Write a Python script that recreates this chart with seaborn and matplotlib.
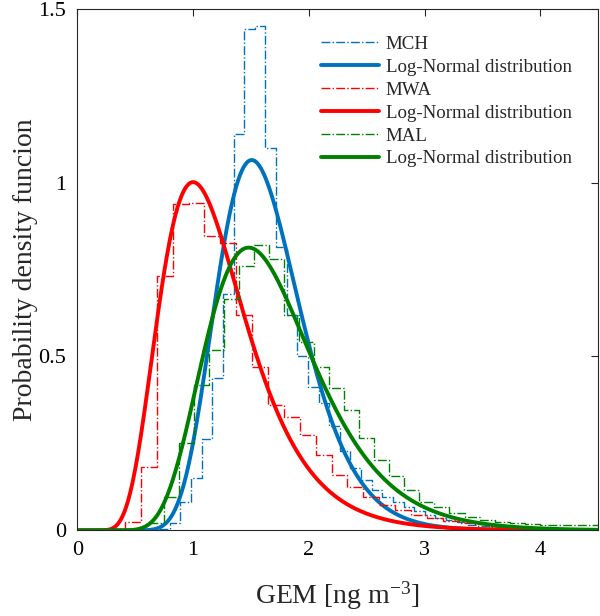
import numpy as np
import matplotlib
matplotlib.use("Agg")
import matplotlib.pyplot as plt
import seaborn as sns

# histogram bins (equal width per site) and densities
mch_start, mch_width = 0.707, 0.0918
mch_density = [0.005, 0.02, 0.083, 0.15, 0.262, 0.437, 0.68, 1.14, 1.44, 1.45,
               1.10, 0.816, 0.619, 0.50, 0.413, 0.366, 0.30, 0.227, 0.18, 0.145,
               0.116, 0.097, 0.083, 0.068, 0.055, 0.045, 0.035, 0.03, 0.025, 0.016,
               0.013, 0.011, 0.009, 0.007, 0.006, 0.005, 0.004, 0.003, 0.003, 0.002]

mwa_start, mwa_width = 0.275, 0.1372
mwa_density = [0.004, 0.025, 0.183, 0.732, 0.938, 0.94, 0.845, 0.825, 0.62, 0.47,
               0.36, 0.327, 0.274, 0.217, 0.16, 0.126, 0.097, 0.073, 0.059, 0.045,
               0.035, 0.028, 0.022, 0.017, 0.013, 0.01, 0.008, 0.006, 0.005, 0.004]

mal_start, mal_width = 0.615, 0.13
mal_density = [0.02, 0.097, 0.251, 0.418, 0.52, 0.665, 0.76, 0.82, 0.78, 0.62,
               0.543, 0.471, 0.41, 0.346, 0.265, 0.203, 0.155, 0.116, 0.083, 0.068,
               0.05, 0.038, 0.03, 0.025, 0.02, 0.017, 0.015, 0.015, 0.016, 0.016]

# fitted log-normal parameters (mu, sigma of ln GEM)
sites = ["MCH", "MWA", "MAL"]
lognorm_mu = [0.468, 0.138, 0.4915]
lognorm_sigma = [0.2416, 0.372, 0.3155]

colors = ["#0072BD", "#FF0000", "#008000"]

sns.set_style("white")
plt.rcParams["font.family"] = ["Liberation Serif", "DejaVu Serif"]
plt.rcParams["mathtext.default"] = "regular"

fig = plt.figure(figsize=(6, 6.16), dpi=100)
ax = fig.add_axes([0.129, 0.139, 0.868, 0.847])

hists = [(mch_start, mch_width, mch_density),
         (mwa_start, mwa_width, mwa_density),
         (mal_start, mal_width, mal_density)]

x = np.linspace(0.001, 4.5, 600)
for site, (start, width, dens), mu, sigma, c in zip(sites, hists, lognorm_mu,
                                                    lognorm_sigma, colors):
    dens = np.asarray(dens)
    edges = start + width * np.arange(len(dens) + 1)
    centers = edges[:-1] + width / 2
    sns.histplot(x=centers, weights=dens, bins=edges.tolist(), element="step",
                 fill=False, color=c, linestyle="-.", linewidth=1.0,
                 label=site, ax=ax)
    pdf = np.exp(-(np.log(x) - mu) ** 2 / (2 * sigma ** 2)) / (x * sigma * np.sqrt(2 * np.pi))
    sns.lineplot(x=x, y=pdf, color=c, linewidth=2.8,
                 label="Log-Normal distribution", ax=ax)

ax.set_xlim(0, 4.5)
ax.set_ylim(0, 1.5)
ax.set_xticks([0, 1, 2, 3, 4])
ax.set_yticks([0, 0.5, 1, 1.5])
ax.set_yticklabels(["0", "0.5", "1", "1.5"])
ax.set_xlabel("GEM [ng m$^{-3}$]", fontsize=20, labelpad=14)
ax.set_ylabel("Probability density funcion", fontsize=20, labelpad=0)
ax.tick_params(direction="in", length=5, width=0.8, top=True, right=True,
               labelsize=16, pad=8, colors="#262626", labelcolor="black")
for sp in ax.spines.values():
    sp.set_color("#262626")
    sp.set_linewidth(0.8)

ax.legend(loc="upper left", bbox_to_anchor=(0.467, 0.948), frameon=False,
          fontsize=13.6, handlelength=3.1, handletextpad=0.35,
          labelspacing=0.3, borderpad=0, borderaxespad=0)

fig.savefig("out.png", dpi=100)
